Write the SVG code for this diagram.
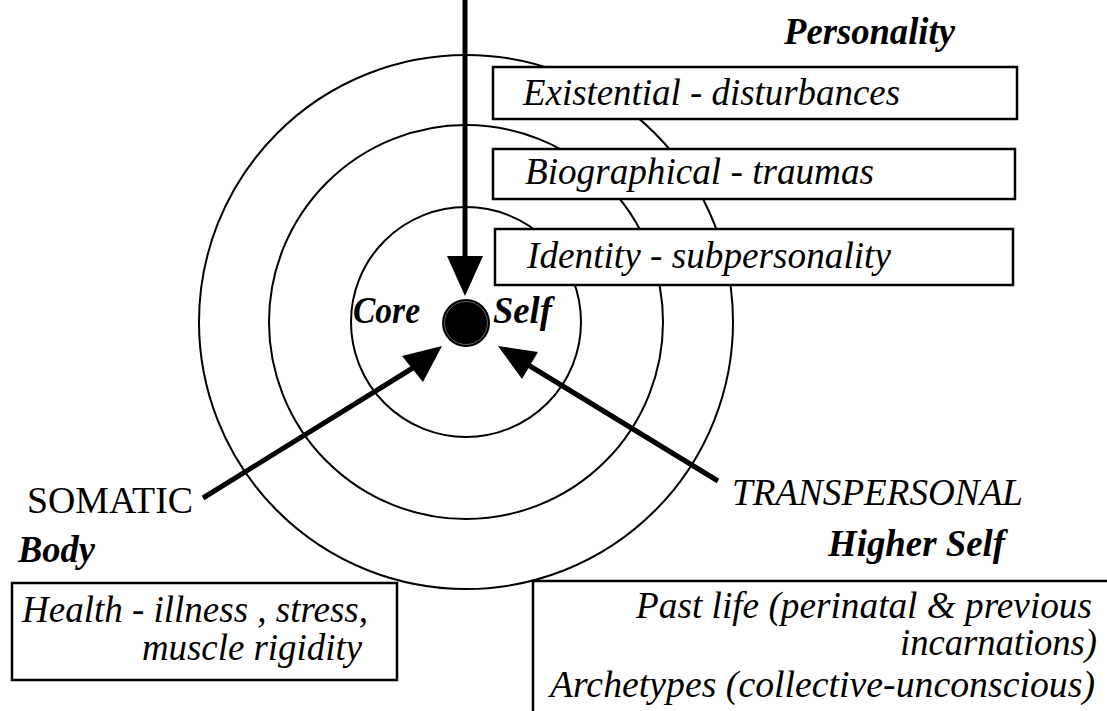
<svg xmlns="http://www.w3.org/2000/svg" width="1107" height="711" viewBox="0 0 1107 711" font-family="Liberation Serif, serif" font-size="37">
<style>
.ring{fill:none;stroke:#000;stroke-width:2}
.box{fill:#fff;stroke:#000;stroke-width:2.5}
.i{font-style:italic}
.b{font-weight:bold}
.conn{stroke:#000;stroke-width:5;fill:none}
.head{fill:#000}
</style>
<g id="rings">
<circle class="ring" cx="466" cy="322" r="267"/>
<circle class="ring" cx="466" cy="322" r="197"/>
<circle class="ring" cx="466" cy="322" r="115"/>
</g>
<g id="core">
<circle cx="466" cy="323" r="24" fill="#000"/>
<circle cx="466" cy="323" r="21.5" fill="none" stroke="#777" stroke-width="0.8"/>
<text class="i b" x="353" y="323" textLength="67" lengthAdjust="spacingAndGlyphs">Core</text>
<text class="i b" x="493" y="323" textLength="59" lengthAdjust="spacingAndGlyphs">Self</text>
</g>
<g id="personality">
<text class="i b" x="784" y="44" textLength="171" lengthAdjust="spacingAndGlyphs">Personality</text>
</g>
<g id="existential">
<rect class="box" x="493" y="67" width="524" height="52"/>
<text class="i" x="523" y="105" textLength="377" lengthAdjust="spacingAndGlyphs">Existential - disturbances</text>
</g>
<g id="biographical">
<rect class="box" x="493" y="149" width="522" height="50"/>
<text class="i" x="525" y="184" textLength="349" lengthAdjust="spacingAndGlyphs">Biographical - traumas</text>
</g>
<g id="identity">
<rect class="box" x="495" y="229" width="518" height="56"/>
<text class="i" x="527" y="268" textLength="364" lengthAdjust="spacingAndGlyphs">Identity - subpersonality</text>
</g>
<g id="somatic">
<text x="27" y="513" textLength="166" lengthAdjust="spacingAndGlyphs">SOMATIC</text>
<text class="i b" x="18" y="562" textLength="77" lengthAdjust="spacingAndGlyphs">Body</text>
</g>
<g id="health">
<rect class="box" x="12" y="583" width="385" height="97"/>
<text class="i" x="22" y="622" textLength="346" lengthAdjust="spacingAndGlyphs">Health - illness , stress,</text>
<text class="i" x="142" y="660" textLength="220" lengthAdjust="spacingAndGlyphs">muscle rigidity</text>
</g>
<g id="transpersonal">
<text class="i" x="732" y="505" textLength="291" lengthAdjust="spacingAndGlyphs">TRANSPERSONAL</text>
<text class="i b" x="828" y="556" textLength="177" lengthAdjust="spacingAndGlyphs">Higher Self</text>
</g>
<g id="pastlife">
<rect x="533" y="581" width="580" height="140" fill="#fff"/>
<path d="M533 711 V581 H1107" fill="none" stroke="#000" stroke-width="2.5"/>
<text class="i" x="636" y="618" textLength="456" lengthAdjust="spacingAndGlyphs">Past life (perinatal &amp; previous</text>
<text class="i" x="900" y="655" textLength="197" lengthAdjust="spacingAndGlyphs">incarnations)</text>
<text class="i" x="550" y="697" textLength="545" lengthAdjust="spacingAndGlyphs">Archetypes (collective-unconscious)</text>
</g>
<g id="connectors">
<line class="conn" x1="465" y1="0" x2="465" y2="260"/>
<polygon class="head" points="447,256 483,256 465,296"/>
<line class="conn" x1="203" y1="498" x2="416" y2="366"/>
<polygon class="head" points="442,346 402,356 423,382"/>
<line class="conn" x1="718" y1="481" x2="525" y2="363"/>
<polygon class="head" points="498,346 538,352 522,379"/>
</g>
</svg>
